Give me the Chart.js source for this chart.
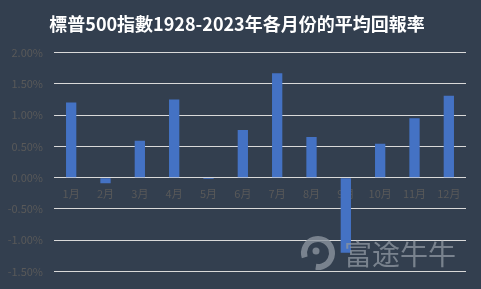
<!DOCTYPE html>
<html><head><meta charset="utf-8">
<script src="https://cdn.jsdelivr.net/npm/chart.js@4/dist/chart.umd.min.js"></script>
<style>html,body{margin:0;padding:0;background:#333f4f;}#wrap{width:481px;height:289px;}</style>
</head><body><div id="wrap"><canvas id="c" width="481" height="289"></canvas></div>
<script>
const categories = ['1月','2月','3月','4月','5月','6月','7月','8月','9月','10月','11月','12月'];
const avgReturn = [1.20, -0.09, 0.59, 1.25, -0.02, 0.76, 1.67, 0.65, -1.20, 0.54, 0.95, 1.31];
const titleText = '標普500指數1928-2023年各月份的平均回報率';
const watermarkText = '富途牛牛';

const bgPlugin = {
  id: 'bg',
  beforeDraw(chart) {
    const ctx = chart.ctx;
    ctx.save();
    ctx.fillStyle = '#333f4f';
    ctx.fillRect(0, 0, chart.width, chart.height);
    ctx.restore();
  }
};
const wmPlugin = {
  id: 'wm',
  afterDraw(chart) {
    const ctx = chart.ctx;
    ctx.save();
    ctx.globalAlpha = 0.8;
    ctx.fillStyle = '#8b949e';
    ctx.strokeStyle = '#8b949e';
    ctx.beginPath();
    ctx.lineWidth = 6;
    ctx.arc(318, 253, 14, Math.PI * 0.9, Math.PI * 2.55);
    ctx.stroke();
    ctx.beginPath();
    ctx.arc(316, 251, 3.5, 0, Math.PI * 2);
    ctx.fill();
    ctx.font = '28px "Noto Sans CJK SC"';
    ctx.textBaseline = 'middle';
    ctx.fillText(watermarkText, 344, 254);
    ctx.restore();
  }
};

new Chart(document.getElementById('c'), {
  type: 'bar',
  data: {
    labels: categories,
    datasets: [{
      data: avgReturn,
      backgroundColor: '#4472c4',
      borderWidth: 0,
      barPercentage: 0.6,
      categoryPercentage: 0.5
    }]
  },
  options: {
    responsive: false,
    animation: false,
    devicePixelRatio: 1,
    layout: { padding: { left: 8, right: 15, top: 0, bottom: 16 } },
    plugins: {
      legend: { display: false },
      tooltip: { enabled: false },
      title: {
        display: true,
        text: titleText,
        color: '#ffffff',
        font: { family: '"Noto Sans CJK TC"', size: 18, weight: 'bold' },
        padding: { top: 13, bottom: 18 }
      }
    },
    scales: {
      x: {
        position: { y: 0 },
        grid: { display: false, drawTicks: false },
        border: { display: false },
        ticks: { color: '#595959', font: { family: '"Noto Sans CJK SC"', size: 11 }, padding: 10, maxRotation: 0 }
      },
      y: {
        min: -1.5, max: 2,
        afterFit: s => { s.width = 46; },
        ticks: { stepSize: 0.5, color: '#595959', font: { family: '"Noto Sans CJK SC"', size: 11 }, padding: 11,
          callback: v => v.toFixed(2) + '%' },
        grid: { color: '#d9d9d9', lineWidth: 1, drawTicks: false },
        border: { display: false }
      }
    }
  },
  plugins: [bgPlugin, wmPlugin]
});
</script></body></html>
